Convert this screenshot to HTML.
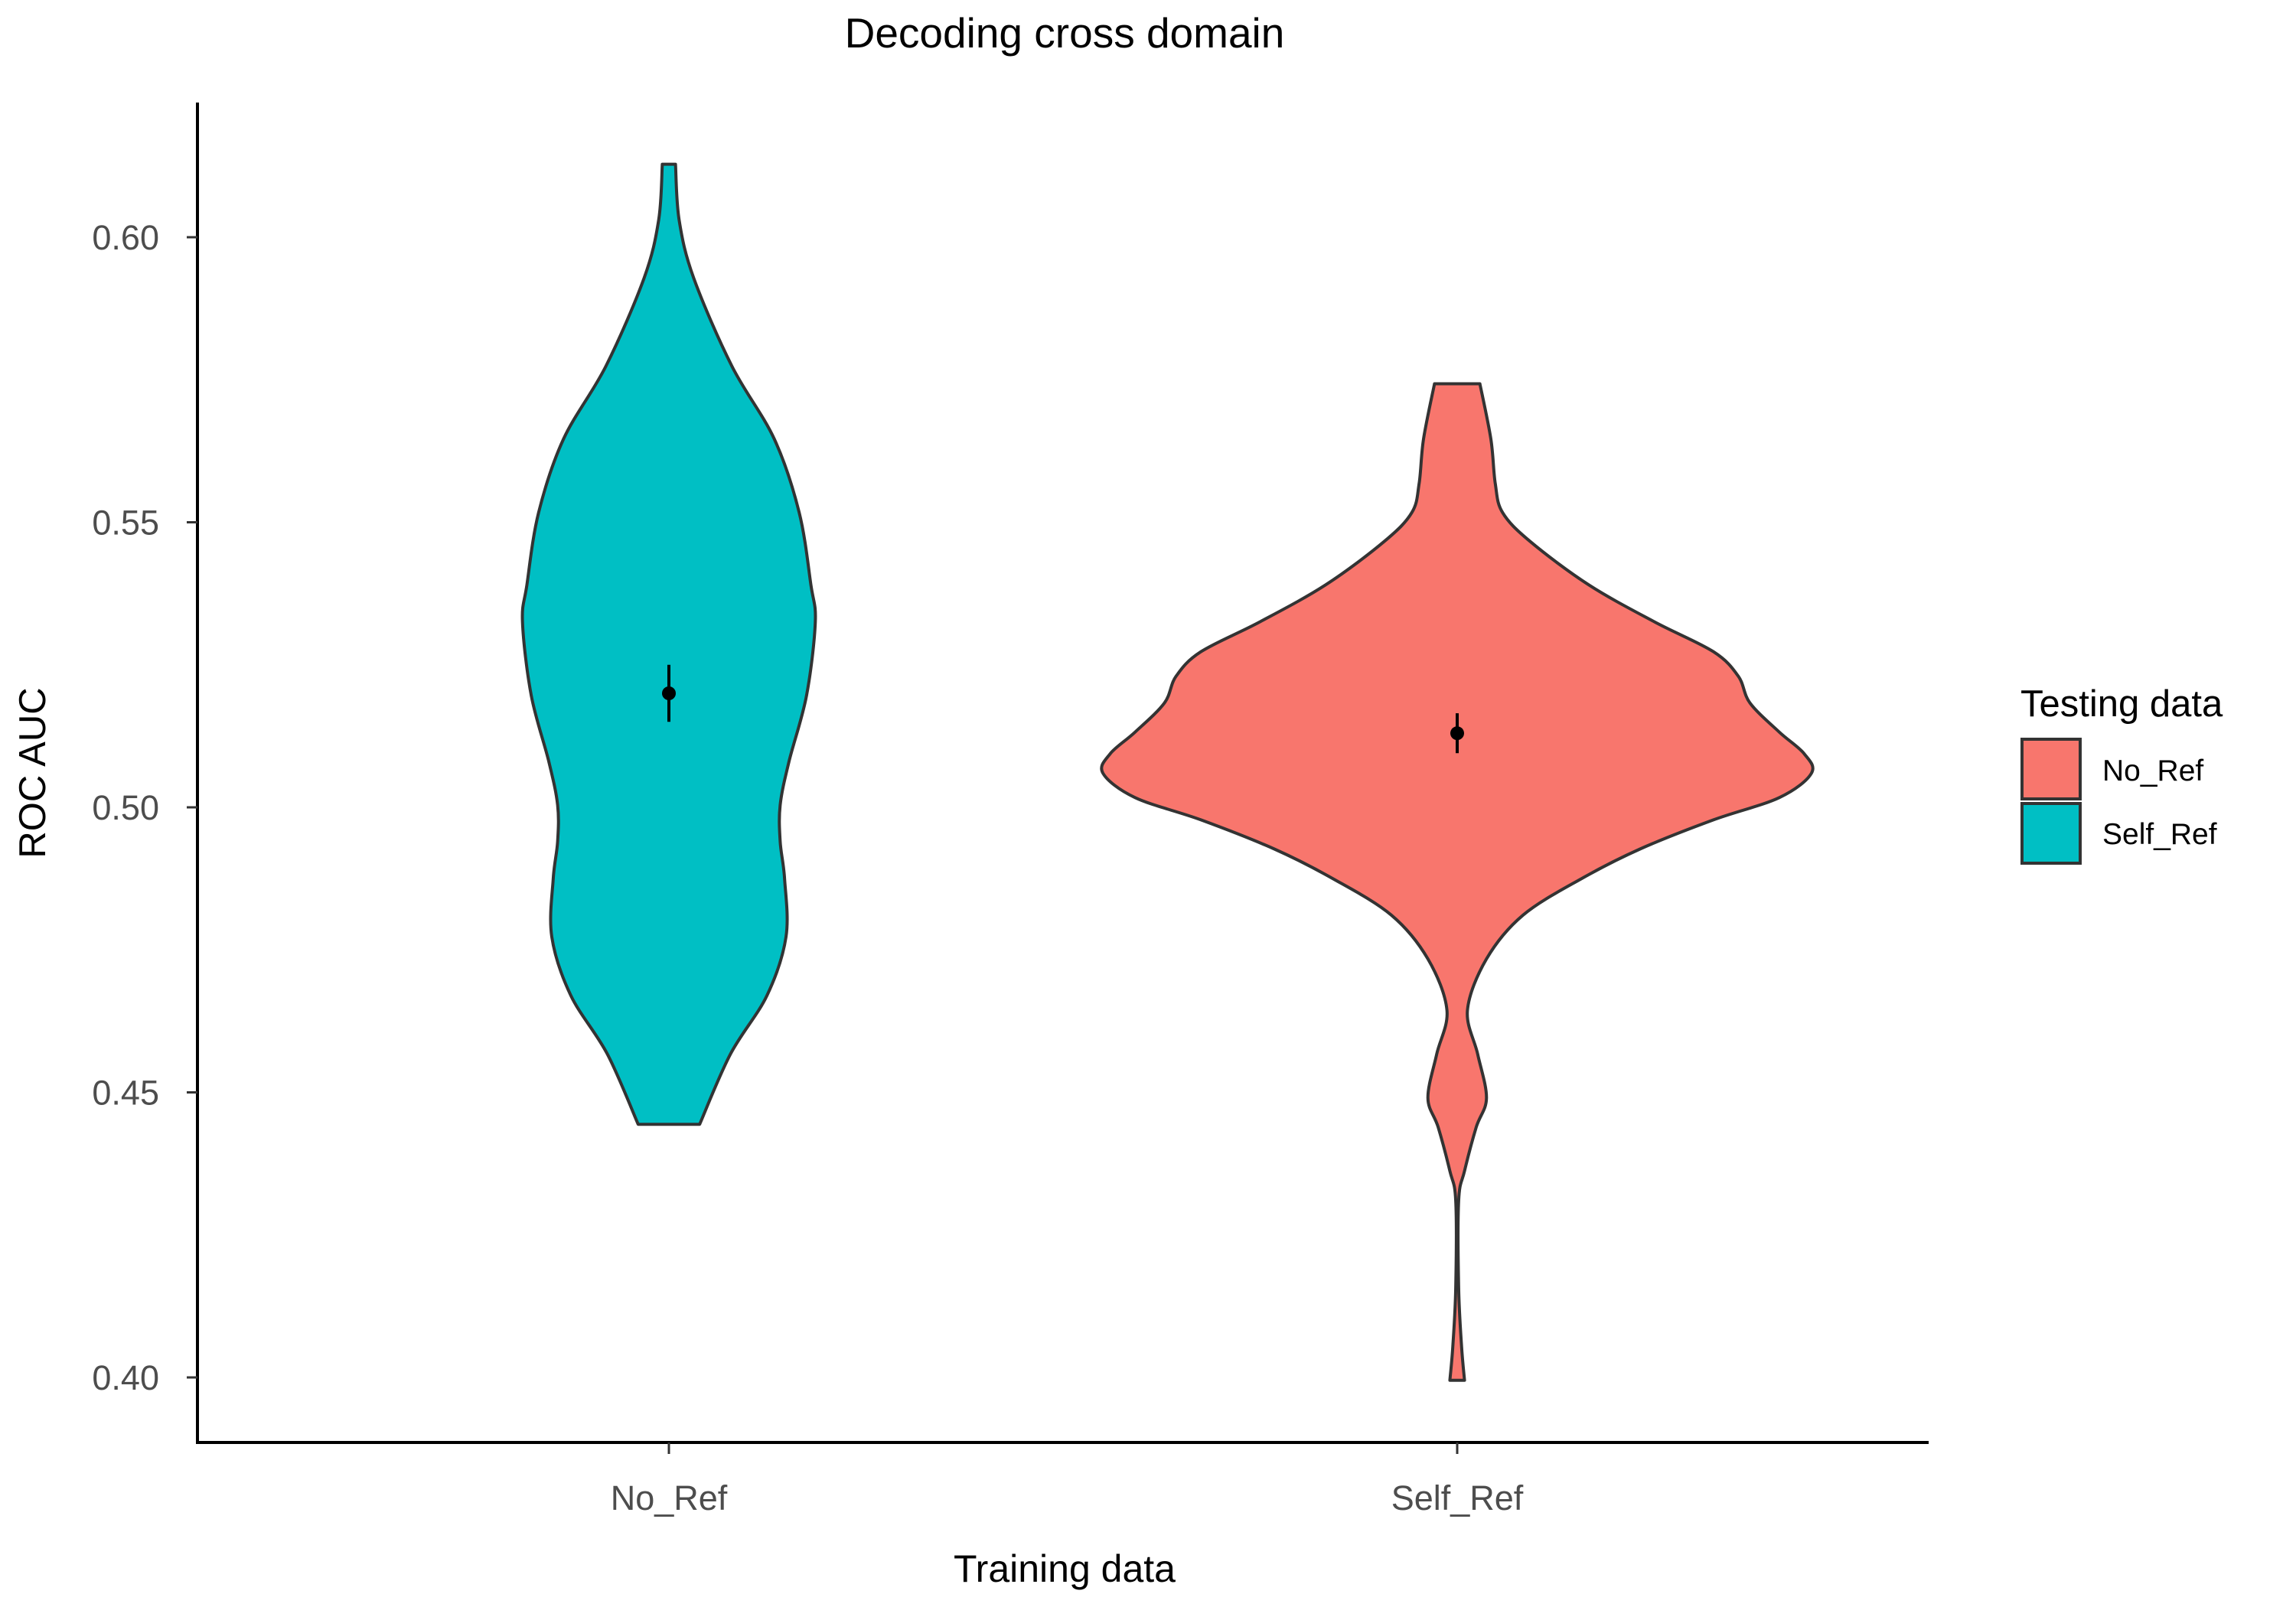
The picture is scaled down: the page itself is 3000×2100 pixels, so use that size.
<!DOCTYPE html>
<html><head><meta charset="utf-8"><style>
html,body{margin:0;padding:0;background:#fff;}
svg{display:block;font-family:"Liberation Sans",Arial,sans-serif;}
</style></head><body>
<svg id="chart" width="3000" height="2100" viewBox="0 0 3000 2100">
<rect width="3000" height="2100" fill="#fff"/>
<text x="1391" y="62" font-size="55" text-anchor="middle" fill="#000">Decoding cross domain</text>
<g id="plot"></g>
<text transform="translate(59,1010) rotate(-90)" font-size="49" text-anchor="middle" fill="#000">ROC AUC</text>
<text x="1391" y="2067" font-size="50" text-anchor="middle" fill="#000">Training data</text>
<g>
<text x="2640" y="936" font-size="49" fill="#000">Testing data</text>
<rect x="2642" y="966" width="76" height="78" fill="#F8766D" stroke="#333" stroke-width="4"/>
<rect x="2642" y="1050" width="76" height="78" fill="#00BFC4" stroke="#333" stroke-width="4"/>
<text x="2747" y="1020" font-size="39" fill="#000">No_Ref</text>
<text x="2747" y="1103" font-size="39" fill="#000">Self_Ref</text>
</g>
</svg>
<script>
const categories = ["No_Ref","Self_Ref"];
const yTicks = [0.40,0.45,0.50,0.55,0.60];
const yTickLabels = ["0.40","0.45","0.50","0.55","0.60"];
const cyanY = [0.6128,0.603,0.5928,0.5774,0.5646,0.5517,0.539,0.5325,0.5196,0.508,0.5004,0.494,0.4875,0.4773,0.467,0.4567,0.4444];
const cyanW = [4.5,7,17,43,72,89,97,100,94,82,76,76,79,80,67,42,21];
const redY = [0.5743,0.5646,0.5568,0.5517,0.5466,0.539,0.5325,0.5273,0.523,0.5183,0.5132,0.5094,0.506,0.5017,0.4978,0.4927,0.4875,0.4811,0.4734,0.4644,0.4567,0.449,0.4439,0.4362,0.431,0.4157,0.4054,0.3995];
const redW = [15.5,23,26,31,50,90,135,175,192,200,220,237,242,220,175,125,85,45,20,7,14,20,13,5,1,1,3,5];
const means = [0.520,0.513];
const errLow = [0.515,0.5095];
const errHigh = [0.525,0.5165];

const NS="http://www.w3.org/2000/svg";
const plot=document.getElementById('plot');
const yS=v=>310+(0.60-v)*7450;
const xS=i=>[874,1904][i];
const wS=d=>d*1.913;
function mk(tag,attrs){const e=document.createElementNS(NS,tag);for(const k in attrs)e.setAttribute(k,attrs[k]);plot.appendChild(e);return e;}

function smooth(pts){
  let d="M"+pts[0][0]+","+pts[0][1];
  for(let i=0;i<pts.length-1;i++){
    const p0=pts[Math.max(0,i-1)],p1=pts[i],p2=pts[i+1],p3=pts[Math.min(pts.length-1,i+2)];
    const c1=[p1[0]+(p2[0]-p0[0])/6,p1[1]+(p2[1]-p0[1])/6];
    const c2=[p2[0]-(p3[0]-p1[0])/6,p2[1]-(p3[1]-p1[1])/6];
    d+=" C"+c1[0]+","+c1[1]+" "+c2[0]+","+c2[1]+" "+p2[0]+","+p2[1];
  }
  return d;
}
function violin(ci,ys,ws,fill,name){
  const cx=xS(ci);
  const right=ys.map((y,i)=>[cx+wS(ws[i]),yS(y)]);
  const left=ys.map((y,i)=>[cx-wS(ws[i]),yS(y)]).reverse();
  let d=smooth(right);
  d+=" L"+left[0][0]+","+left[0][1];
  d+=smooth(left).replace(/^M[^ ]+/,"");
  d+=" Z";
  const p=mk('path',{d:d,fill:fill,stroke:'#333',"stroke-width":4,"stroke-linejoin":"round"});
  
  
}
violin(0,cyanY,cyanW,'#00BFC4','violin-no-ref');
violin(1,redY,redW,'#F8766D','violin-self-ref');

for(let i=0;i<means.length;i++){
  const l=mk('line',{x1:xS(i),x2:xS(i),y1:yS(errLow[i]),y2:yS(errHigh[i]),stroke:'#000',"stroke-width":4});
  
  
  const c=mk('circle',{cx:xS(i),cy:yS(means[i]),r:9,fill:'#000'});
  
  
}

const ya=mk('line',{x1:258,x2:258,y1:134,y2:1887,stroke:'#000',"stroke-width":4});


const xa=mk('line',{x1:256,x2:2520,y1:1885,y2:1885,stroke:'#000',"stroke-width":4});



yTicks.forEach((v,i)=>{
  const t=mk('line',{x1:244,x2:258,y1:yS(v),y2:yS(v),stroke:'#333',"stroke-width":3});
  
  
  const tx=mk('text',{x:208,y:yS(v)+16,"font-size":45,"text-anchor":"end",fill:'#4d4d4d'});
  tx.textContent=yTickLabels[i];
  
  
});
categories.forEach((c,i)=>{
  const t=mk('line',{x1:xS(i),x2:xS(i),y1:1885,y2:1900,stroke:'#333',"stroke-width":3});
  
  
  const tx=mk('text',{x:xS(i),y:1973,"font-size":45,"text-anchor":"middle",fill:'#4d4d4d'});
  tx.textContent=c;
  
  
});
</script>
</body></html>
